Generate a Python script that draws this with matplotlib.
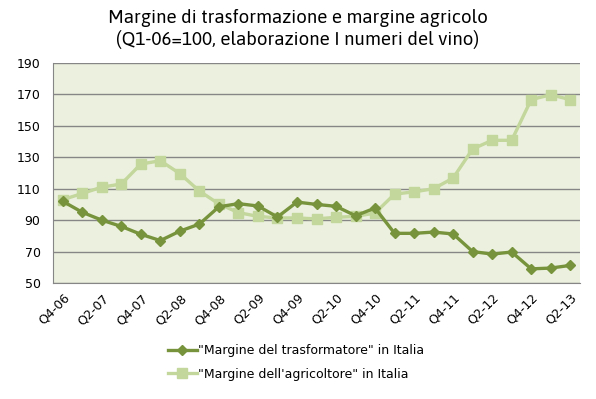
import matplotlib.pyplot as plt

# --- Data ---
quarters = ["Q4-06", "Q1-07", "Q2-07", "Q3-07", "Q4-07", "Q1-08", "Q2-08", "Q3-08",
            "Q4-08", "Q1-09", "Q2-09", "Q3-09", "Q4-09", "Q1-10", "Q2-10", "Q3-10",
            "Q4-10", "Q1-11", "Q2-11", "Q3-11", "Q4-11", "Q1-12", "Q2-12", "Q3-12",
            "Q4-12", "Q1-13", "Q2-13"]
trasformatore = [102, 95, 90, 86, 81, 77, 83, 87.5, 98.5, 100.5, 99, 92, 101.5,
                 100, 98.8, 92.8, 97.7, 81.6, 81.6, 82.4, 81.2, 70, 68.4, 69.7,
                 59, 59.5, 61.2]
agricoltore = [103, 107, 111, 113, 125.7, 127.8, 119.6, 108.5, 100.3, 94.8, 92.4,
               91.4, 91.4, 90.8, 91.8, 92.4, 94.5, 106.6, 108, 110, 116.8, 135.3,
               140.8, 140.8, 166.7, 169.8, 166.7]
yticks = [50, 70, 90, 110, 130, 150, 170, 190]

label_tr = '"Margine del trasformatore" in Italia'
label_ag = '"Margine dell\'agricoltore" in Italia'
title = "Margine di trasformazione e margine agricolo\n(Q1-06=100, elaborazione I numeri del vino)"

# --- Plot ---
fig = plt.figure(figsize=(5.96, 3.99), dpi=100)
ax = fig.add_axes([53 / 596, 1 - 283 / 399, (580 - 53) / 596, (283 - 63) / 399])
ax.set_facecolor("#EBF1DE")

x = list(range(len(quarters)))
ax.plot(x, trasformatore, color="#77933C", lw=2.4, marker="D", ms=5.5,
        label=label_tr, zorder=4)
ax.plot(x, agricoltore, color="#C3D69B", lw=2.4, marker="s", ms=7.5,
        label=label_ag, zorder=3)

ax.set_ylim(50, 190)
ax.set_yticks(yticks)
ax.set_xlim(-0.5, len(quarters) - 0.5)
ax.set_xticks(x[::2])
ax.set_xticklabels(quarters[::2], rotation=45, ha="right", rotation_mode="anchor")
ax.tick_params(length=0, labelsize=9, colors="black")
ax.tick_params(axis="x", pad=6)
ax.tick_params(axis="y", pad=9)
ax.grid(axis="y", color="#868686", lw=1)
ax.set_axisbelow(True)
for s in ["top", "right"]:
    ax.spines[s].set_visible(False)
for s in ["left", "bottom"]:
    ax.spines[s].set_color("#868686")

# title: bold, non-condensed face
fig.text(0.5, 0.978, title, ha="center", va="top", fontsize=13.5, fontweight="bold",
         family=["Asap", "DejaVu Sans"], linespacing=1.2)

fig.legend(loc="upper left", bbox_to_anchor=(163 / 596, 1 - 339 / 399), frameon=False,
           fontsize=9, handlelength=2.3, handletextpad=0.1, labelspacing=0.85,
           borderaxespad=0)

plt.savefig("out.png", dpi=100)
